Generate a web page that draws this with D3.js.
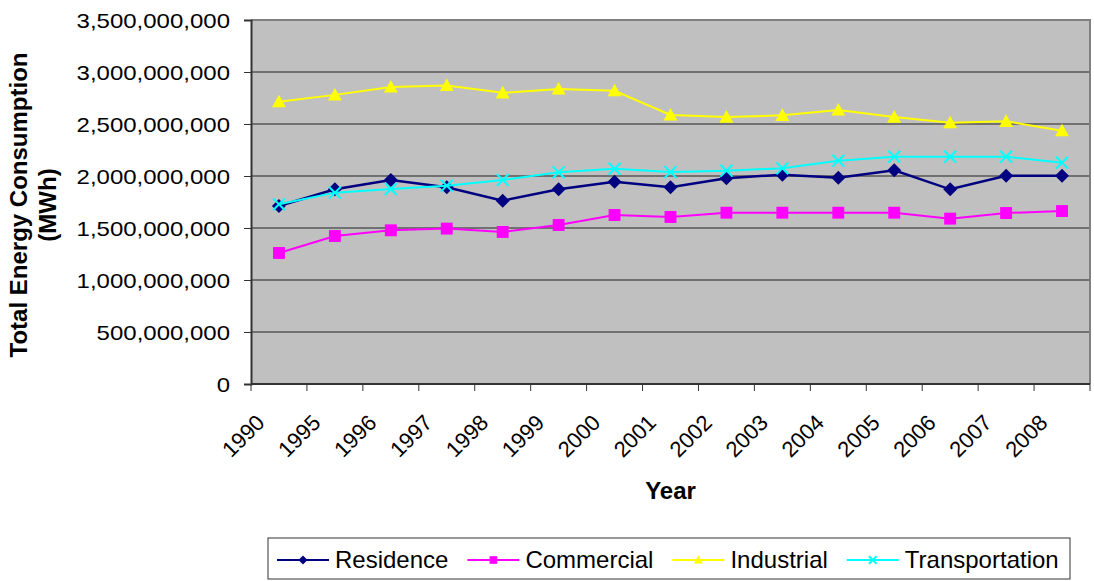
<!DOCTYPE html>
<html>
<head>
<meta charset="utf-8">
<script src="https://cdn.jsdelivr.net/npm/d3@7"></script>
<style>
  body { margin: 0; background: #fff; }
  text { font-family: Arial, "Liberation Sans", sans-serif; fill: #000; }
</style>
</head>
<body>
<svg width="1094" height="581"></svg>
<script>

// valores (MWh)
let years = ['1990','1995','1996','1997','1998','1999','2000','2001','2002','2003','2004','2005','2006','2007','2008'];
let residence      = [1711e6, 1872e6, 1962e6, 1891e6, 1763e6, 1872e6, 1945e6, 1891e6, 1978e6, 2013e6, 1984e6, 2055e6, 1872e6, 2003e6, 2003e6];
let commercial     = [1260e6, 1423e6, 1478e6, 1494e6, 1462e6, 1529e6, 1625e6, 1606e6, 1647e6, 1647e6, 1647e6, 1647e6, 1590e6, 1644e6, 1663e6];
let industrial     = [2715e6, 2780e6, 2856e6, 2870e6, 2800e6, 2837e6, 2820e6, 2587e6, 2567e6, 2583e6, 2635e6, 2567e6, 2513e6, 2526e6, 2436e6];
let transportation = [1728e6, 1840e6, 1875e6, 1907e6, 1962e6, 2035e6, 2070e6, 2038e6, 2051e6, 2074e6, 2147e6, 2186e6, 2186e6, 2186e6, 2128e6];
let yTicks = [0, 5e8, 1e9, 1.5e9, 2e9, 2.5e9, 3e9, 3.5e9];

let series = [
    {name: 'Residence',      values: residence,      color: '#000080', symbol: 'diamond'},
    {name: 'Commercial',     values: commercial,     color: '#FF00FF', symbol: 'square'},
    {name: 'Industrial',     values: industrial,     color: '#FFFF00', symbol: 'triangle'},
    {name: 'Transportation', values: transportation, color: '#00FFFF', symbol: 'cross'}
];

let svg = d3.select('svg');
let pLeft = 251, pRight = 1090, pTop = 20, pBottom = 384;

let x = d3.scaleBand().domain(years).range([pLeft, pRight]).padding(0);
let y = d3.scaleLinear().domain([0, 3.5e9]).range([pBottom, pTop]);

// fondo del area de grafico
svg.append('rect')
    .attr('x', pLeft).attr('y', pTop)
    .attr('width', pRight - pLeft).attr('height', pBottom - pTop)
    .attr('fill', '#C0C0C0');

// lineas de grilla
svg.append('g')
    .selectAll('line')
    .data(yTicks.filter(d => d > 0 && d < 3.5e9))
    .enter().append('line')
    .attr('x1', pLeft).attr('x2', pRight)
    .attr('y1', d => y(d)).attr('y2', d => y(d))
    .attr('stroke', '#222').attr('stroke-width', 1);

// borde superior y derecho
svg.append('path')
    .attr('d', 'M' + pLeft + ',' + y(3.5e9) + 'H' + pRight + 'V' + pBottom)
    .attr('fill', 'none').attr('stroke', '#808080').attr('stroke-width', 2);

// eje Y
let yAxis = svg.append('g')
    .attr('transform', 'translate(' + pLeft + ',0)')
    .call(d3.axisLeft(y).tickValues(yTicks).tickFormat(d3.format(',')).tickSize(7).tickPadding(0));
yAxis.select('.domain').attr('stroke', '#333').attr('stroke-width', 2);
yAxis.selectAll('.tick line').attr('stroke', '#333');
yAxis.selectAll('.tick text')
    .attr('x', -21 / 1.2)
    .attr('dy', '0.36em')
    .attr('transform', 'scale(1.2,1)')
    .style('font-size', '20px')
    .style('font-family', 'Arial, "Liberation Sans", sans-serif')
    .attr('fill', '#000');

// eje X
svg.append('line')
    .attr('x1', pLeft).attr('x2', pRight)
    .attr('y1', pBottom).attr('y2', pBottom)
    .attr('stroke', '#333').attr('stroke-width', 2);

svg.append('g')
    .selectAll('line')
    .data(years.map(d => x(d)).concat([pRight]))
    .enter().append('line')
    .attr('x1', d => d).attr('x2', d => d)
    .attr('y1', pBottom).attr('y2', pBottom + 7)
    .attr('stroke', '#333');

svg.append('g')
    .selectAll('text')
    .data(years)
    .enter().append('text')
    .attr('transform', d => 'translate(' + (x(d) + x.bandwidth() / 2 - 13) + ',' + (pBottom + 40) + ') rotate(-45)')
    .attr('text-anchor', 'end')
    .style('font-size', '22px')
    .text(d => d);

// titulos de ejes
svg.append('text')
    .attr('x', (pLeft + pRight) / 2).attr('y', 499)
    .attr('text-anchor', 'middle')
    .style('font-size', '24px').style('font-weight', 'bold')
    .text('Year');

let yTitle = svg.append('g');
yTitle.append('text')
    .attr('transform', 'translate(27,205) rotate(-90)')
    .attr('text-anchor', 'middle')
    .style('font-size', '24px').style('font-weight', 'bold')
    .text('Total Energy Consumption');
yTitle.append('text')
    .attr('transform', 'translate(56,205) rotate(-90)')
    .attr('text-anchor', 'middle')
    .style('font-size', '24px').style('font-weight', 'bold')
    .text('(MWh)');

// simbolos
function marker(sel, symbol, color, s) {
    if (symbol === 'diamond') {
        sel.append('path').attr('d', 'M0,' + (-s) + 'L' + s + ',0L0,' + s + 'L' + (-s) + ',0Z').attr('fill', color);
    } else if (symbol === 'square') {
        let h = s * 0.85;
        sel.append('rect').attr('x', -h).attr('y', -h).attr('width', 2 * h).attr('height', 2 * h).attr('fill', color);
    } else if (symbol === 'triangle') {
        sel.append('path').attr('d', 'M0,' + (-s) + 'L' + s + ',' + (s * 0.8) + 'L' + (-s) + ',' + (s * 0.8) + 'Z').attr('fill', color);
    } else {
        let h = s * 0.85;
        sel.append('path').attr('d', 'M' + (-h) + ',' + (-h) + 'L' + h + ',' + h + 'M' + h + ',' + (-h) + 'L' + (-h) + ',' + h)
            .attr('stroke', color).attr('stroke-width', 2).attr('fill', 'none');
    }
}

let line = d3.line()
    .x((d, i) => x(years[i]) + x.bandwidth() / 2)
    .y(d => y(d));

series.forEach(function (s) {
    let g = svg.append('g');
    g.append('path')
        .attr('d', line(s.values))
        .attr('fill', 'none')
        .attr('stroke', s.color)
        .attr('stroke-width', s.symbol === 'diamond' ? 2.5 : 2);
    g.selectAll('g')
        .data(s.values)
        .enter().append('g')
        .attr('transform', (d, i) => 'translate(' + (x(years[i]) + x.bandwidth() / 2) + ',' + y(d) + ')')
        .each(function () { marker(d3.select(this), s.symbol, s.color, 7); });
});

// leyenda
let legend = svg.append('g');
legend.append('rect')
    .attr('x', 268).attr('y', 538)
    .attr('width', 1070 - 268).attr('height', 579 - 538)
    .attr('fill', '#fff').attr('stroke', '#333').attr('stroke-width', 1);

let lx = 277, ly = 560;
series.forEach(function (s) {
    let item = legend.append('g');
    item.append('line')
        .attr('x1', lx).attr('x2', lx + 52)
        .attr('y1', ly).attr('y2', ly)
        .attr('stroke', s.color).attr('stroke-width', 2);
    let m = item.append('g').attr('transform', 'translate(' + (lx + 26) + ',' + ly + ')');
    marker(m, s.symbol, s.color, 4.5);
    let t = item.append('text')
        .attr('x', lx + 58).attr('y', ly + 8)
        .style('font-size', '24px')
        .text(s.name);
    lx = lx + 58 + t.node().getComputedTextLength() + 19;
});

</script>
</body>
</html>
